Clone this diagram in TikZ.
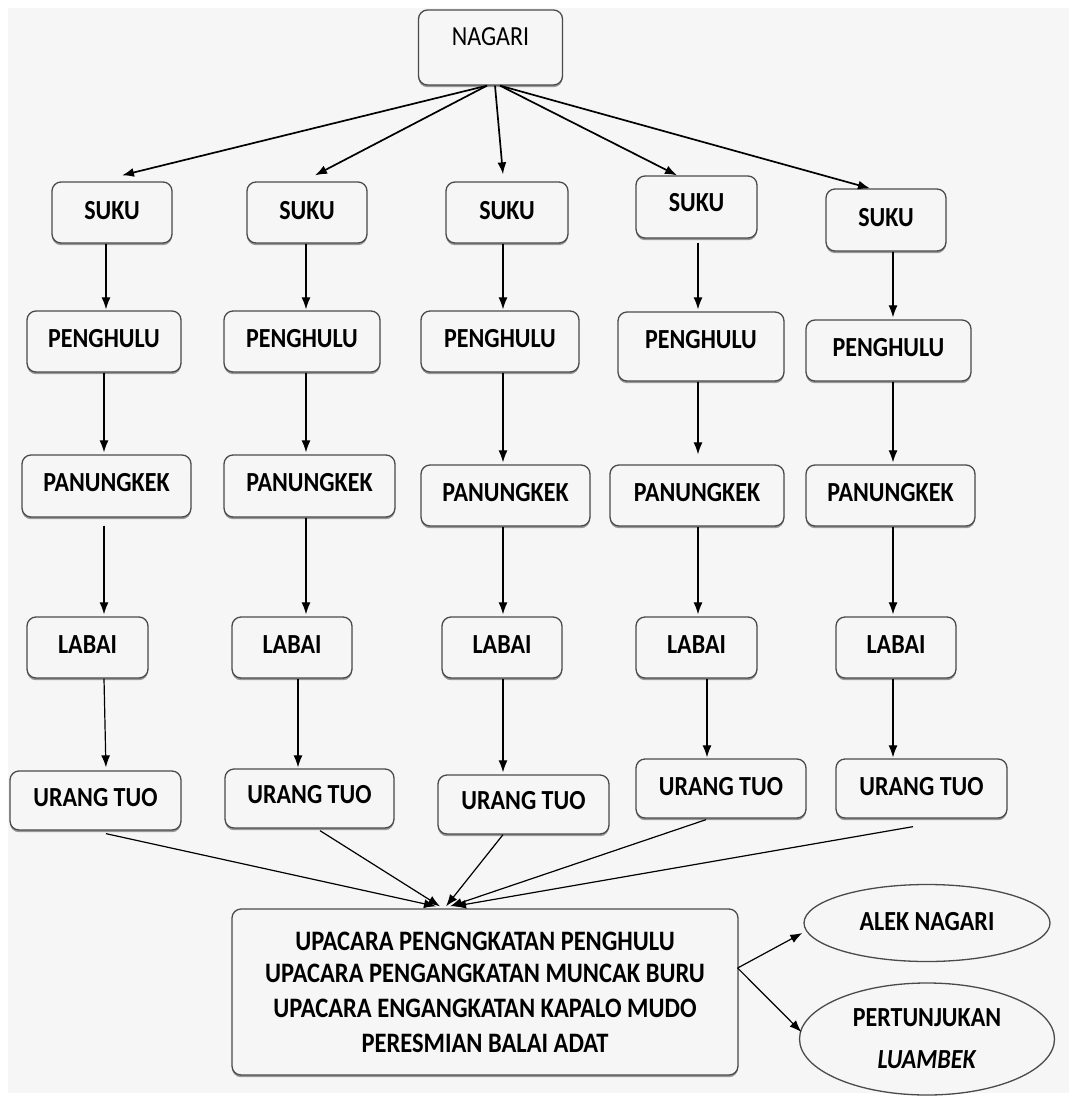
\documentclass[tikz,border=0pt]{standalone}
\usepackage{graphicx}
\usepackage{fontspec}
\setmainfont{Carlito}
\usetikzlibrary{arrows.meta,shapes.geometric,shadows}
\definecolor{bgc}{HTML}{F6F6F6}
\definecolor{edge}{HTML}{4A4A4A}
\newcommand\tall[1]{\scalebox{1}[1.15]{#1}}
% \mybox{name}{cx}{cy}{w}{h}{text-y}{text}
\newcommand\mybox[7]{%
  \node[box, minimum width=#4pt, minimum height=#5pt] (#1) at (#2,#3)
    {\raisebox{\dimexpr #3pt-#6pt-8.9pt\relax}[0pt][0pt]{\tall{#7}}};}
\begin{document}
\begin{tikzpicture}[x=1pt,y=-1pt,
  box/.style={draw=edge, line width=1.3pt, rounded corners=9pt, fill=bgc,
    inner sep=0pt, font=\bfseries\fontsize{24}{28}\selectfont,
    drop shadow={shadow xshift=0pt, shadow yshift=-2.2pt, opacity=.55, fill=black!70}},
  oval/.style={draw=edge, line width=1.3pt, ellipse, fill=bgc, inner sep=0pt,
    font=\bfseries\fontsize{24}{40}\selectfont, align=center},
  arr/.style={draw=black, line width=1.2pt, -{Latex[length=12pt,width=9pt]}},
  toparr/.style={arr, line width=1.7pt}]
\useasboundingbox (0,0) rectangle (1069,1097);
\fill[white] (0,0) rectangle (1069,1097);
\fill[bgc] (8,8) rectangle (1069,1093);

% column coordinates
\coordinate (c1) at (106,0);
\coordinate (c1b) at (104,0);
\coordinate (c2) at (306,0);
\coordinate (c2b) at (298,0);
\coordinate (c3) at (503,0);
\coordinate (c4) at (698,0);
\coordinate (c4b) at (707,0);
\coordinate (c5) at (893,0);

% top
\node[box, font=\fontsize{24}{28}\selectfont, minimum width=144pt, minimum height=75pt] (nagari) at (490.5,47.5)
  {\raisebox{\dimexpr 10.5pt-8.9pt\relax}[0pt][0pt]{\tall{NAGARI}}};

% SUKU row
\mybox{s1}{112}{212.5}{120}{61}{211}{SUKU}
\mybox{s2}{307}{212.5}{120}{61}{211}{SUKU}
\mybox{s3}{507}{212.5}{122}{61}{211}{SUKU}
\mybox{s4}{696.5}{207}{121}{62}{203}{SUKU}
\mybox{s5}{886}{220}{120}{62}{218}{SUKU}

% PENGHULU row
\mybox{p1}{104}{341.5}{154}{61}{339}{PENGHULU}
\mybox{p2}{302}{341.5}{156}{61}{339}{PENGHULU}
\mybox{p3}{500}{341.5}{158}{61}{339}{PENGHULU}
\mybox{p4}{701}{346.5}{166}{69}{340}{PENGHULU}
\mybox{p5}{888.5}{350.5}{165}{61}{348}{PENGHULU}

% PANUNGKEK row
\mybox{k1}{106.5}{486}{169}{62}{483}{PANUNGKEK}
\mybox{k2}{309.5}{486}{171}{62}{483}{PANUNGKEK}
\mybox{k3}{505.5}{495.5}{169}{61}{493}{PANUNGKEK}
\mybox{k4}{697}{495.5}{174}{61}{493}{PANUNGKEK}
\mybox{k5}{890.5}{495.5}{169}{61}{493}{PANUNGKEK}

% LABAI row
\mybox{l1}{87.5}{647.5}{121}{61}{645}{LABAI}
\mybox{l2}{292}{647.5}{120}{61}{645}{LABAI}
\mybox{l3}{502}{647.5}{120}{61}{645}{LABAI}
\mybox{l4}{696.5}{647.5}{121}{61}{645}{LABAI}
\mybox{l5}{896}{647.5}{120}{61}{645}{LABAI}

% URANG TUO row
\mybox{u1}{95.5}{800.5}{171}{59}{798}{URANG TUO}
\mybox{u2}{309.5}{798.5}{169}{59}{795}{URANG TUO}
\mybox{u3}{523.5}{804.5}{171}{59}{801}{URANG TUO}
\mybox{u4}{721}{788.5}{170}{59}{787}{URANG TUO}
\mybox{u5}{921.5}{788.5}{171}{59}{787}{URANG TUO}

% big box
\node[box, minimum width=506pt, minimum height=166pt, align=center,
  font=\bfseries\fontsize{24.5}{35}\selectfont] (big) at (485,992)
  {\raisebox{-3pt}{\tall{UPACARA PENGNGKATAN PENGHULU}}\\\tall{UPACARA PENGANGKATAN MUNCAK BURU}\\\tall{UPACARA ENGANGKATAN KAPALO MUDO}\\\tall{PERESMIAN BALAI ADAT}};

% ellipses
\node[oval, minimum width=246pt, minimum height=77pt] (alek) at (927,923)
  {\raisebox{4pt}{\tall{ALEK NAGARI}}};
\node[oval, minimum width=255pt, minimum height=112pt] (pert) at (927,1039)
  {\tall{PERTUNJUKAN}\\\raisebox{-2pt}{\tall{\textit{LUAMBEK}}}};

% NAGARI -> SUKU
\draw[toparr] ([xshift=-3.5pt]nagari.south) -- ([xshift=10pt,yshift=6pt]s1.north);
\draw[toparr] ([xshift=-3.5pt]nagari.south) -- ([xshift=8pt,yshift=6pt]s2.north);
\draw[toparr] ([xshift=4.5pt]nagari.south) -- ([xshift=-4pt,yshift=7pt]s3.north);
\draw[toparr] ([xshift=9.5pt]nagari.south) -- ([xshift=-19.5pt,yshift=0pt]s4.north);
\draw[toparr] ([xshift=9.5pt]nagari.south) -- ([xshift=-16pt,yshift=0pt]s5.north);

% column 1
\draw[arr, shorten >=1pt] (s1.south -| c1) -- (p1.north -| c1);
\draw[arr, shorten >=2pt] (p1.south -| c1b) -- (k1.north -| c1b);
\draw[arr, shorten <=8pt, shorten >=2pt] (k1.south -| c1b) -- (l1.north -| c1b);
\draw[arr, shorten >=3pt] (l1.south -| c1b) -- (u1.north -| c1);
% column 2
\draw[arr, shorten >=1pt] (s2.south -| c2) -- (p2.north -| c2);
\draw[arr, shorten >=2pt] (p2.south -| c2) -- (k2.north -| c2);
\draw[arr, shorten >=2pt] (k2.south -| c2) -- (l2.north -| c2);
\draw[arr, shorten >=1pt] (l2.south -| c2b) -- (u2.north -| c2b);
% column 3
\draw[arr, shorten >=1pt] (s3.south -| c3) -- (p3.north -| c3);
\draw[arr, shorten >=2pt] (p3.south -| c3) -- (k3.north -| c3);
\draw[arr, shorten >=2pt] (k3.south -| c3) -- (l3.north -| c3);
\draw[arr, shorten >=2pt] (l3.south -| c3) -- (u3.north -| c3);
% column 4
\draw[arr, shorten <=4pt, shorten >=2pt] (s4.south -| c4) -- (p4.north -| c4);
\draw[arr, shorten >=10pt] (p4.south -| c4) -- (k4.north -| c4);
\draw[arr, shorten >=2pt] (k4.south -| c4) -- (l4.north -| c4);
\draw[arr, shorten >=1pt] (l4.south -| c4b) -- (u4.north -| c4b);
% column 5
\draw[arr, shorten >=2pt] (s5.south -| c5) -- (p5.north -| c5);
\draw[arr, shorten >=2pt] (p5.south -| c5) -- (k5.north -| c5);
\draw[arr, shorten >=2pt] (k5.south -| c5) -- (l5.north -| c5);
\draw[arr, shorten >=1pt] (l5.south -| c5) -- (u5.north -| c5);

% URANG TUO -> big box
\draw[arr] ([xshift=10.5pt,yshift=-3pt]u1.south) -- ([xshift=-49pt,yshift=2pt]big.north);
\draw[arr] ([xshift=10.5pt,yshift=-2pt]u2.south) -- ([xshift=-45pt,yshift=2pt]big.north);
\draw[arr] ([xshift=-20.5pt]u3.south) -- ([xshift=-39pt,yshift=2pt]big.north);
\draw[arr] ([xshift=-15pt,yshift=-1pt]u4.south) -- ([xshift=-35pt,yshift=2pt]big.north);
\draw[arr] ([xshift=-8.5pt,yshift=-8pt]u5.south) -- ([xshift=-31pt,yshift=2pt]big.north);

% big box -> ellipses
\draw[arr] ([xshift=-1pt,yshift=24pt]big.east) -- ([xshift=-1pt,yshift=-10pt]alek.west);
\draw[arr] ([xshift=-1pt,yshift=24pt]big.east) -- ([xshift=2.5pt,yshift=7pt]pert.west);
\end{tikzpicture}
\end{document}
